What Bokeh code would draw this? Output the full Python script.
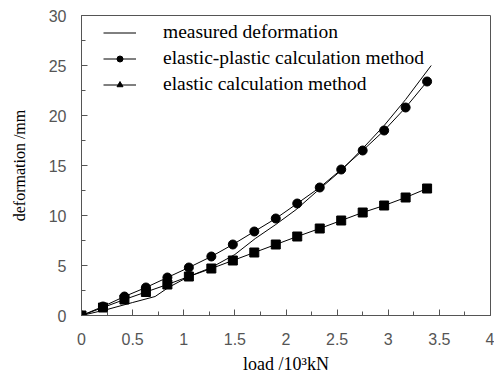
from bokeh.plotting import figure
from bokeh.models import Legend, LegendItem, ColumnDataSource, FixedTicker, Range1d
from bokeh.embed import file_html
from bokeh.resources import INLINE

# ---- data ----
load_calc = [0, 0.21, 0.42, 0.63, 0.84, 1.05, 1.27, 1.48, 1.69, 1.90, 2.11, 2.33, 2.54, 2.75, 2.96, 3.17, 3.38]
elastic_plastic = [0, 0.9, 1.9, 2.8, 3.8, 4.8, 5.9, 7.1, 8.4, 9.7, 11.2, 12.8, 14.6, 16.5, 18.5, 20.8, 23.4]
elastic = [0, 0.8, 1.6, 2.35, 3.1, 3.9, 4.7, 5.5, 6.3, 7.1, 7.9, 8.7, 9.5, 10.3, 11.0, 11.8, 12.7]

load_measured = [0, 0.25, 0.5, 0.72, 0.85, 1.05, 1.27, 1.5, 1.7, 1.9, 2.1, 2.3, 2.55, 2.75, 2.96, 3.17, 3.42]
measured = [0, 0.6, 1.3, 1.9, 2.8, 3.9, 4.8, 6.1, 7.7, 9.1, 10.6, 12.4, 14.6, 16.7, 19.0, 21.6, 25.0]

x_ticks = [0, 0.5, 1, 1.5, 2, 2.5, 3, 3.5, 4]
x_tick_labels = ["0", "0.5", "1", "1.5", "2", "2.5", "3", "3.5", "4"]
y_ticks = [0, 5, 10, 15, 20, 25, 30]
y_tick_labels = ["0", "5", "10", "15", "20", "25", "30"]

series_names = ["measured deformation", "elastic-plastic calculation method", "elastic calculation method"]

SERIF = "Liberation Serif"
SANS = "Liberation Sans"

p = figure(width=494, height=385, output_backend="svg", toolbar_location=None,
           x_range=Range1d(0, 4), y_range=Range1d(0, 30),
           min_border_left=81, min_border_right=4, min_border_top=15, min_border_bottom=70)
p.background_fill_color = "white"
p.border_fill_color = "white"
p.outline_line_color = "#555555"
p.outline_line_width = 1
p.grid.visible = False

src_m = ColumnDataSource(dict(x=load_measured, y=measured))
src_c = ColumnDataSource(dict(x=load_calc, ep=elastic_plastic, e=elastic))

r_meas = p.line("x", "y", source=src_m, line_color="black", line_width=1)
r_ep_line = p.line("x", "ep", source=src_c, line_color="black", line_width=1)
r_e_line = p.line("x", "e", source=src_c, line_color="black", line_width=1)

# small markers used for the legend glyphs (hidden beneath the larger plotted markers)
lg_circle = p.scatter("x", "ep", source=src_c, marker="circle", size=6, fill_color="black", line_color="black")
lg_tri = p.scatter("x", "e", source=src_c, marker="triangle", size=6, fill_color="black", line_color="black")

r_ep_pts = p.scatter("x", "ep", source=src_c, marker="circle", size=9, fill_color="black", line_color="black")
r_e_pts = p.scatter("x", "e", source=src_c, marker="square", size=9, fill_color="black", line_color="black")

legend = Legend(items=[
    LegendItem(label=series_names[0], renderers=[r_meas]),
    LegendItem(label=series_names[1], renderers=[r_ep_line, lg_circle]),
    LegendItem(label=series_names[2], renderers=[r_e_line, lg_tri]),
], location=(22, 220))
legend.border_line_color = None
legend.background_fill_alpha = 0
legend.label_text_font = SERIF
legend.label_text_font_size = "19.5px"
legend.label_text_color = "black"
legend.glyph_width = 33
legend.glyph_height = 15
legend.label_height = 15
legend.label_standoff = 27
legend.spacing = 4
legend.padding = 4
legend.margin = 0
p.add_layout(legend, "center")

# axes
for ax in (p.xaxis[0], p.yaxis[0]):
    ax.axis_line_color = "#555555"
    ax.major_tick_line_color = "#555555"
    ax.minor_tick_line_color = "#555555"
    ax.major_tick_in = 6
    ax.major_tick_out = 0
    ax.minor_tick_in = 4
    ax.minor_tick_out = 0
    ax.major_label_text_font = SANS
    ax.major_label_text_font_size = "16px"
    ax.major_label_text_color = "#555555"
    ax.axis_label_text_font = SERIF
    ax.axis_label_text_font_style = "normal"
    ax.axis_label_text_color = "black"

p.xaxis.ticker = FixedTicker(ticks=x_ticks, minor_ticks=[t + 0.25 for t in x_ticks[:-1]])
p.yaxis.ticker = FixedTicker(ticks=y_ticks, minor_ticks=[t + 2.5 for t in y_ticks[:-1]])
p.xaxis.major_label_overrides = {t: l for t, l in zip(x_ticks, x_tick_labels)}
p.yaxis.major_label_overrides = {t: l for t, l in zip(y_ticks, y_tick_labels)}
p.xaxis.major_label_standoff = 17
p.yaxis.major_label_standoff = 15

p.xaxis.axis_label = "load /10\u00b3kN"
p.xaxis.axis_label_text_font_size = "18px"
p.xaxis.axis_label_standoff = 6
p.yaxis.axis_label = "deformation /mm"
p.yaxis.axis_label_text_font_size = "16px"
p.yaxis.axis_label_standoff = 18

open("out.html", "w").write(file_html(p, INLINE))
